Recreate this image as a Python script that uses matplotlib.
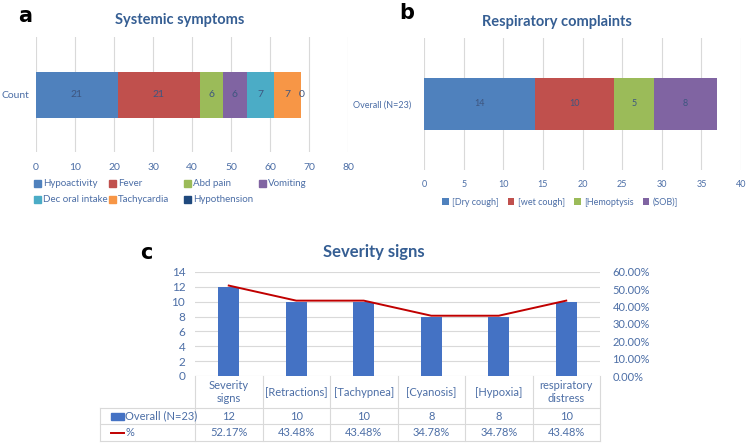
import matplotlib.pyplot as plt
from matplotlib.lines import Line2D
from matplotlib.transforms import blended_transform_factory

plt.rcParams['font.family'] = ['Lato', 'DejaVu Sans']

# panel a: systemic symptoms
sys_labels = ["Hypoactivity", "Fever", "Abd pain", "Vomiting",
              "Dec oral intake", "Tachycardia", "Hypothension"]
sys_values = [21, 21, 6, 6, 7, 7, 0]
sys_colors = ["#4F81BD", "#C0504D", "#9BBB59", "#8064A2",
              "#4BACC6", "#F79646", "#1F497D"]

# panel b: respiratory complaints
resp_labels = ["[Dry cough]", "[wet cough]", "[Hemoptysis", "(SOB)]"]
resp_values = [14, 10, 5, 8]
resp_colors = ["#4F81BD", "#C0504D", "#9BBB59", "#8064A2"]

# panel c: severity signs
sev_labels = ["Severity\nsigns", "[Retractions]", "[Tachypnea]",
              "[Cyanosis]", "[Hypoxia]", "respiratory\ndistress"]
sev_counts = [12, 10, 10, 8, 8, 10]
sev_pct = [52.17, 43.48, 43.48, 34.78, 34.78, 43.48]

TITLE_C = "#355E93"
TICK_C = "#4C6EA6"
LABEL_C = "#3E5680"
GRID_C = "#D9D9D9"

W, H = 748, 443
fig = plt.figure(figsize=(W / 100, H / 100), dpi=100)


def fy(py):
    return 1 - py / H


def px_axes(x0, y0, x1, y1):
    return fig.add_axes([x0 / W, 1 - y1 / H, (x1 - x0) / W, (y1 - y0) / H])


def hbar_stack(ax, values, colors, labels, height, fs):
    left = 0
    for v, c, lab in zip(values, colors, labels):
        ax.barh(0, v, left=left, height=height, color=c, label=lab, zorder=2)
        ax.text(left + v / 2, 0, str(v), ha="center", va="center",
                fontsize=fs, color=LABEL_C, zorder=3)
        left += v


def style_h(ax, xmax, step, fs, pad):
    ax.set_xlim(0, xmax)
    ax.set_ylim(-0.5, 0.5)
    ax.set_xticks(range(0, xmax + 1, step))
    ax.grid(axis="x", color=GRID_C, lw=0.8, zorder=0)
    for s in ax.spines.values():
        s.set_visible(False)
    ax.tick_params(length=0, labelsize=fs, labelcolor=TICK_C, pad=pad)


# ---- a ----
axa = px_axes(36, 37, 348, 152)
hbar_stack(axa, sys_values, sys_colors, sys_labels, 0.4, 7.5)
style_h(axa, 80, 10, 7.5, 8)
axa.set_yticks([0])
axa.set_yticklabels(["Count"])
axa.tick_params(axis="y", pad=5)
fig.text(180 / W, fy(20), "Systemic symptoms", ha="center", va="center",
         fontsize=10.5, fontweight="bold", color=TITLE_C)
fig.text(25 / W, fy(16), "a", ha="center", va="center", fontsize=15,
         fontweight="bold", family="DejaVu Sans")
# legend laid out in fixed-width columns, row by row
for i, (lab, c) in enumerate(zip(sys_labels, sys_colors)):
    lx = 34 + 75 * (i % 4)
    ly = 183 + 17 * (i // 4)
    fig.add_artist(plt.Rectangle((lx / W, fy(ly + 3.5)), 7 / W, 7 / H,
                                 color=c, transform=fig.transFigure))
    fig.text((lx + 9) / W, fy(ly), lab, ha="left", va="center",
             fontsize=7, color=TICK_C)

# ---- b ----
axb = px_axes(424, 38, 741, 170)
hbar_stack(axb, resp_values, resp_colors, resp_labels, 0.4, 6.5)
style_h(axb, 40, 5, 6.5, 7)
axb.set_yticks([0])
axb.set_yticklabels(["Overall (N=23)"])
axb.tick_params(axis="y", pad=9)
fig.text(557 / W, fy(22), "Respiratory complaints", ha="center",
         va="center", fontsize=10.5, fontweight="bold", color=TITLE_C)
fig.text(407 / W, fy(13), "b", ha="center", va="center", fontsize=15,
         fontweight="bold", family="DejaVu Sans")
axb.legend(ncol=4, loc="upper center", bbox_to_anchor=(0.43, -0.18),
           frameon=False, fontsize=6.5, handlelength=0.7, handleheight=0.7,
           handletextpad=0.4, columnspacing=1.0, labelcolor=TICK_C,
           borderaxespad=0)

# ---- c ----
axc = px_axes(195, 272, 600, 376)
xs = range(len(sev_counts))
axc.bar(xs, sev_counts, width=0.31, color="#4472C4", zorder=2)
axc.set_xlim(-0.5, len(sev_counts) - 0.5)
axc.set_ylim(0, 14)
axc.set_yticks(range(0, 15, 2))
axc.grid(axis="y", color=GRID_C, lw=0.8, zorder=0)
for s in axc.spines.values():
    s.set_visible(False)
axc.set_xticks([])
axc.tick_params(length=0, labelsize=8.5, labelcolor=TICK_C, pad=7)

axr = axc.twinx()
axr.plot(xs, [p / 100 for p in sev_pct], color="#C00000", lw=1.4, zorder=3)
axr.set_ylim(0, 0.6)
axr.set_yticks([i / 10 for i in range(7)])
axr.set_yticklabels([f"{i * 10:.2f}%" for i in range(7)])
for s in axr.spines.values():
    s.set_visible(False)
axr.tick_params(length=0, labelsize=8, labelcolor=TICK_C, pad=9)

fig.text(374 / W, fy(252), "Severity signs", ha="center", va="center",
         fontsize=12, fontweight="bold", color=TITLE_C)
fig.text(146 / W, fy(253), "c", ha="center", va="center", fontsize=15,
         fontweight="bold", family="DejaVu Sans")

# data table under the chart
tr = blended_transform_factory(axc.transData, fig.transFigure)
n = len(sev_counts)
for i in range(n):
    axc.text(i, fy(392), sev_labels[i], transform=tr, ha="center",
             va="center", fontsize=8, color=TICK_C, linespacing=1.25)
    axc.text(i, fy(416), str(sev_counts[i]), transform=tr, ha="center",
             va="center", fontsize=8, color=TICK_C)
    axc.text(i, fy(433), f"{sev_pct[i]:.2f}%", transform=tr, ha="center",
             va="center", fontsize=8, color=TICK_C)
for k in range(n + 1):
    axc.add_line(Line2D([k - 0.5, k - 0.5], [fy(376), fy(441)], transform=tr,
                        color=GRID_C, lw=0.8, clip_on=False))
for py in (408, 424, 441):
    fig.add_artist(Line2D([100 / W, 600 / W], [fy(py), fy(py)],
                          color=GRID_C, lw=0.8))
fig.add_artist(Line2D([100 / W, 100 / W], [fy(408), fy(441)],
                      color=GRID_C, lw=0.8))
fig.add_artist(plt.Rectangle((111 / W, fy(420)), 13 / W, 7 / H,
                             color="#4472C4", transform=fig.transFigure))
fig.text(125 / W, fy(416), "Overall (N=23)", ha="left", va="center",
         fontsize=8, color=TICK_C)
fig.add_artist(Line2D([111 / W, 124 / W], [fy(433), fy(433)],
                      color="#C00000", lw=1.4))
fig.text(125 / W, fy(433), "%", ha="left", va="center", fontsize=8,
         color=TICK_C)

fig.savefig("out.png", dpi=100)
